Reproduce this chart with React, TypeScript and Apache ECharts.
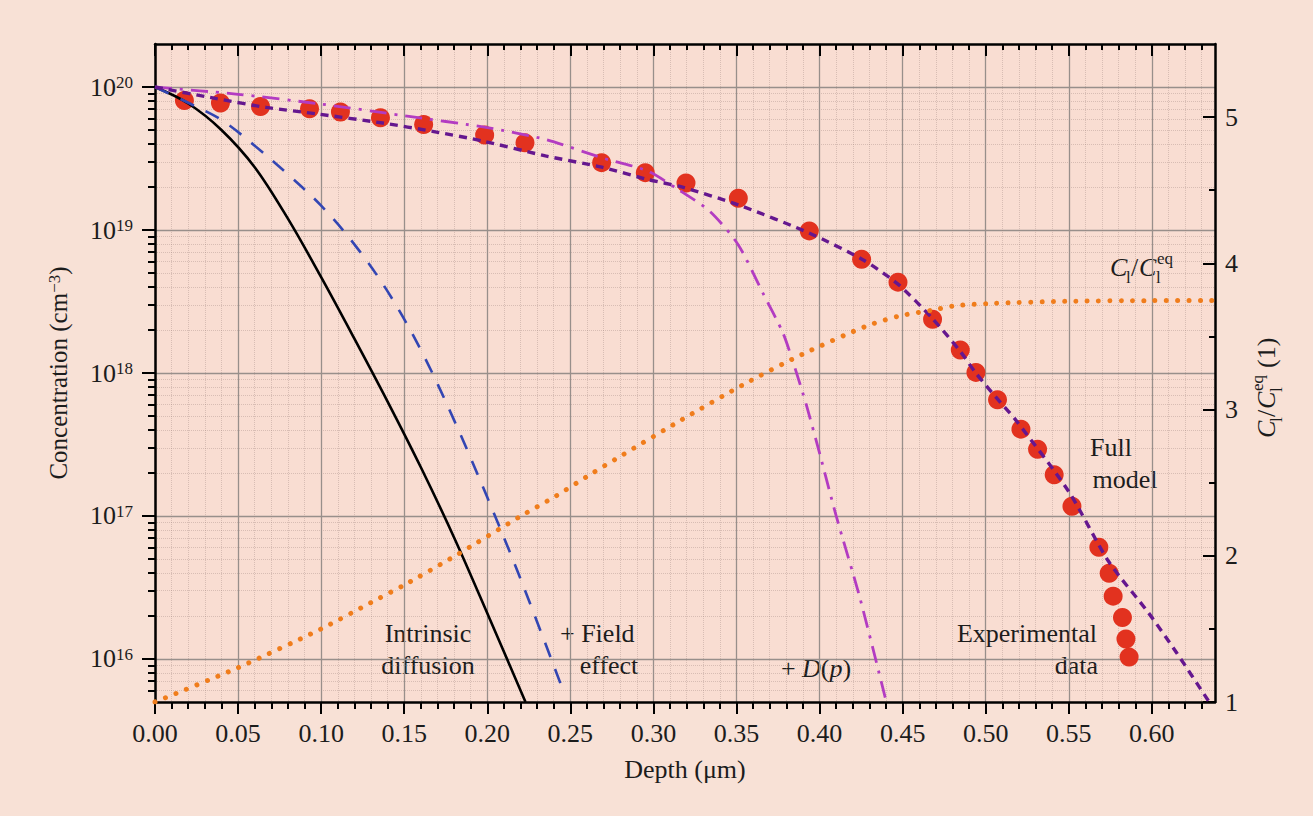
import React, { useEffect, useRef } from 'react';
import * as echarts from 'echarts';

const FONT = '"Liberation Serif", "Times New Roman", "DejaVu Serif", serif';
const TXT = '#1c1c1c';

// ---- axis ticks ----
const depthTicks = [0, 0.05, 0.1, 0.15, 0.2, 0.25, 0.3, 0.35, 0.4, 0.45, 0.5, 0.55, 0.6];
const depthMinorSteps = [1, 2, 3, 4, 6, 7, 8, 9, 11, 12, 13, 14, 16, 17, 18, 19, 21, 22, 23, 24, 26, 27, 28, 29, 31, 32, 33, 34, 36, 37, 38, 39, 41, 42, 43, 44, 46, 47, 48, 49, 51, 52, 53, 54, 56, 57, 58, 59, 61, 62, 63];
const depthMinorTicks = depthMinorSteps.map((s) => s / 100);
const concTicks = [1e16, 1e17, 1e18, 1e19, 1e20];
const concMantissas = [2, 3, 4, 5, 6, 7, 8, 9];
const concDecades = [15, 16, 17, 18, 19, 20];
const ratioTicks = [1, 2, 3, 4, 5];
const ratioMinorTicks = [1.5, 2.5, 3.5, 4.5];

// ---- data ----
const expDepth = [0.0177, 0.0394, 0.0635, 0.093, 0.1116, 0.1357, 0.1617, 0.1984, 0.2227, 0.2688, 0.2951, 0.3196, 0.3511, 0.3938, 0.4253, 0.4472, 0.468, 0.4847, 0.4941, 0.5071, 0.5212, 0.5312, 0.5412, 0.5519, 0.5681, 0.5743, 0.5767, 0.5823, 0.5844, 0.5863];
const expConc = [8.05e19, 7.73e19, 7.31e19, 7.05e19, 6.68e19, 6.1e19, 5.47e19, 4.61e19, 4.07e19, 2.96e19, 2.52e19, 2.13e19, 1.67e19, 9.86e18, 6.25e18, 4.32e18, 2.38e18, 1.45e18, 1.01e18, 6.49e17, 4.05e17, 2.93e17, 1.94e17, 1.17e17, 6.04e16, 3.97e16, 2.75e16, 1.95e16, 1.38e16, 1.03e16];

const intrDepth = [0, 0.02, 0.04, 0.06, 0.08, 0.1, 0.12, 0.14, 0.16, 0.18, 0.2, 0.223];
const intrConc = [1e20, 7.67e19, 5.01e19, 2.75e19, 1.2e19, 4.68e18, 1.74e18, 6.31e17, 2.19e17, 7.08e16, 2.09e16, 5.0e15];

const fieldDepth = [0, 0.02, 0.04, 0.06, 0.08, 0.1, 0.12, 0.14, 0.16, 0.18, 0.2, 0.22, 0.244];
const fieldConc = [1e20, 7.76e19, 5.89e19, 3.89e19, 2.45e19, 1.48e19, 7.94e18, 3.72e18, 1.45e18, 4.68e17, 1.35e17, 3.63e16, 6.76e15];

const dpDepth = [0, 0.05, 0.1, 0.15, 0.2, 0.235, 0.269, 0.296, 0.314, 0.334, 0.351, 0.366, 0.378, 0.385, 0.392, 0.4, 0.41, 0.424, 0.44];
const dpConc = [1e20, 8.9e19, 7.6e19, 6.3e19, 5.2e19, 4.3e19, 3.2e19, 2.6e19, 1.95e19, 1.35e19, 7.9e18, 3.6e18, 1.9e18, 1.1e18, 6.0e17, 2.75e17, 1.0e17, 2.75e16, 5.1e15];

const fullDepth = [0, 0.037, 0.067, 0.097, 0.137, 0.167, 0.197, 0.235, 0.269, 0.297, 0.317, 0.351, 0.394, 0.426, 0.447, 0.468, 0.485, 0.494, 0.506, 0.518, 0.55, 0.574, 0.598, 0.615, 0.634];
const fullConc = [1e20, 8.3e19, 7.2e19, 6.5e19, 5.6e19, 4.9e19, 4.2e19, 3.3e19, 2.75e19, 2.25e19, 2.0e19, 1.5e19, 9.5e18, 6.2e18, 4.2e18, 2.4e18, 1.4e18, 1.0e18, 6.8e17, 4.7e17, 1.48e17, 4.8e16, 2.1e16, 1.1e16, 5.1e15];

const ratioDepth = [0, 0.05, 0.1, 0.13, 0.15, 0.18, 0.22, 0.24, 0.264, 0.28, 0.317, 0.354, 0.39, 0.428, 0.448, 0.468, 0.482, 0.504, 0.548, 0.6, 0.637];
const ratioVal = [1.0, 1.235, 1.5, 1.68, 1.8, 1.995, 2.27, 2.4, 2.57, 2.68, 2.93, 3.17, 3.38, 3.57, 3.64, 3.68, 3.71, 3.726, 3.74, 3.745, 3.745];

const pairs = (xs: number[], ys: number[]) => xs.map((x, i) => [x, ys[i]]);

const concMinorTicks: number[] = [];
concDecades.forEach((e) => {
  concMantissas.forEach((m) => {
    const v = m * Math.pow(10, e);
    if (v > 5.01e15 && v < 1.99e20) concMinorTicks.push(v);
  });
});

const majorGrid = { show: true, lineStyle: { color: '#988f8b', width: 1.3, type: 'solid' as const } };
const minorGrid = { show: true, lineStyle: { color: 'rgba(150,125,118,0.33)', width: 1, type: 'dotted' as const } };

export default function App() {
  const ref = useRef<HTMLDivElement>(null);
  useEffect(() => {
    if (!ref.current) return;
    const chart = echarts.init(ref.current, undefined, { renderer: 'svg' });
    const labelBase = { fontFamily: FONT, color: TXT, fontSize: 26 };
    const txt = (text: string, x: number, y: number, align: string) => ({
      type: 'text', x, y,
      style: { text, fontSize: 26, fontFamily: FONT, fill: TXT, align, verticalAlign: 'middle' },
    });
    const piece = (text: string, x: number, y: number, size: number, italic: boolean) => ({
      type: 'text', x, y,
      style: { text, fontSize: size, fontFamily: FONT, fontStyle: italic ? 'italic' : 'normal', fill: TXT, align: 'left', verticalAlign: 'middle' },
    });
    const option: any = {
      animation: false,
      backgroundColor: '#f8e1d6',
      grid: { left: 155, top: 44, width: 1060, height: 658, show: true, backgroundColor: '#f9ddd2', borderWidth: 0 },
      xAxis: [
        {
          type: 'value', position: 'bottom', min: 0, max: 0.638,
          name: 'Depth (μm)', nameLocation: 'middle', nameGap: 54,
          nameTextStyle: { ...labelBase },
          axisLine: { show: true, onZero: false, lineStyle: { color: '#000', width: 2.5 } },
          axisTick: { show: true, inside: false, length: 12, customValues: depthTicks, lineStyle: { color: '#000', width: 2 } },
          axisLabel: { show: true, customValues: depthTicks, margin: 18, ...labelBase, formatter: (v: number) => v.toFixed(2) },
          splitLine: majorGrid,
        },
        {
          type: 'value', position: 'bottom', min: 0, max: 0.638,
          axisLine: { show: false, onZero: false },
          axisTick: { show: true, inside: false, length: 7, customValues: depthMinorTicks, lineStyle: { color: '#000', width: 2 } },
          axisLabel: { show: false },
          splitLine: minorGrid,
        },
        {
          type: 'value', position: 'top', min: 0, max: 0.638,
          axisLine: { show: true, onZero: false, lineStyle: { color: '#000', width: 2.5 } },
          axisTick: { show: true, inside: true, length: 12, customValues: depthTicks, lineStyle: { color: '#000', width: 2 } },
          axisLabel: { show: false },
          splitLine: { show: false },
        },
        {
          type: 'value', position: 'top', min: 0, max: 0.638,
          axisLine: { show: false, onZero: false },
          axisTick: { show: true, inside: true, length: 6, customValues: depthMinorTicks, lineStyle: { color: '#000', width: 2 } },
          axisLabel: { show: false },
          splitLine: { show: false },
        },
      ],
      yAxis: [
        {
          type: 'log', logBase: 10, position: 'left', min: 5e15, max: 2e20,
          name: 'Concentration (cm{sup|−3})', nameLocation: 'middle', nameRotate: 90, nameGap: 84,
          nameTextStyle: { ...labelBase, fontSize: 25, rich: { sup: { fontFamily: FONT, color: TXT, fontSize: 17, verticalAlign: 'top', lineHeight: 17 } } },
          axisLine: { show: true, onZero: false, lineStyle: { color: '#000', width: 2.5 } },
          axisTick: { show: true, inside: false, length: 13, customValues: concTicks, lineStyle: { color: '#000', width: 2 } },
          axisLabel: {
            show: true, customValues: concTicks, margin: 22, ...labelBase,
            formatter: (v: number) => `{b|10}{s|${Math.round(Math.log10(v))}}`,
            rich: {
              b: { fontFamily: FONT, color: TXT, fontSize: 26, lineHeight: 26 },
              s: { fontFamily: FONT, color: TXT, fontSize: 17, lineHeight: 17, verticalAlign: 'top' },
            },
          },
          splitLine: majorGrid,
        },
        {
          type: 'log', logBase: 10, position: 'left', min: 5e15, max: 2e20,
          axisLine: { show: false, onZero: false },
          axisTick: { show: true, inside: false, length: 7, customValues: concMinorTicks, lineStyle: { color: '#000', width: 2 } },
          axisLabel: { show: false },
          splitLine: minorGrid,
        },
        {
          type: 'value', position: 'right', min: 1, max: 5.5,
          axisLine: { show: true, onZero: false, lineStyle: { color: '#000', width: 2.5 } },
          axisTick: { show: true, inside: true, length: 12, customValues: ratioTicks, lineStyle: { color: '#000', width: 2 } },
          axisLabel: { show: true, customValues: ratioTicks, margin: 10, ...labelBase },
          splitLine: { show: false },
        },
        {
          type: 'value', position: 'right', min: 1, max: 5.5,
          axisLine: { show: false, onZero: false },
          axisTick: { show: true, inside: true, length: 6, customValues: ratioMinorTicks, lineStyle: { color: '#000', width: 2 } },
          axisLabel: { show: false },
          splitLine: { show: false },
        },
      ],
      series: [
        {
          name: 'Experimental data', type: 'scatter', xAxisIndex: 0, yAxisIndex: 0,
          data: pairs(expDepth, expConc), symbol: 'circle', symbolSize: 19,
          itemStyle: { color: '#e2321f', opacity: 1 }, z: 2,
        },
        {
          name: 'Intrinsic diffusion', type: 'line', xAxisIndex: 0, yAxisIndex: 0,
          data: pairs(intrDepth, intrConc), showSymbol: false, smooth: 0.35,
          lineStyle: { color: '#000', width: 2.6, type: 'solid' }, z: 3,
        },
        {
          name: '+Field effect', type: 'line', xAxisIndex: 0, yAxisIndex: 0,
          data: pairs(fieldDepth, fieldConc), showSymbol: false, smooth: 0.35,
          lineStyle: { color: '#3346b3', width: 2.6, type: [15, 13] }, z: 3,
        },
        {
          name: '+D(p)', type: 'line', xAxisIndex: 0, yAxisIndex: 0,
          data: pairs(dpDepth, dpConc), showSymbol: false, smooth: 0.25,
          lineStyle: { color: '#b33cc2', width: 2.8, type: [17, 8, 3, 8] }, z: 3,
        },
        {
          name: 'Full model', type: 'line', xAxisIndex: 0, yAxisIndex: 0,
          data: pairs(fullDepth, fullConc), showSymbol: false, smooth: 0.25,
          lineStyle: { color: '#65178f', width: 3.4, type: [8, 6] }, z: 4,
        },
        {
          name: 'Cl/Cl eq', type: 'line', xAxisIndex: 0, yAxisIndex: 2,
          data: pairs(ratioDepth, ratioVal), showSymbol: false, smooth: 0.25,
          lineStyle: { color: '#f07d1c', width: 5, type: [0.01, 11.3], cap: 'round' }, z: 4,
        },
      ],
      graphic: [
        txt('Intrinsic', 428, 633, 'center'),
        txt('diffusion', 428, 665, 'center'),
        txt('+ Field', 560, 633, 'left'),
        txt('effect', 609, 665, 'center'),
        {
          type: 'text', x: 816, y: 668,
          style: {
            text: '+ {i|D}({i|p})', fontSize: 26, fontFamily: FONT, fill: TXT, align: 'center', verticalAlign: 'middle',
            rich: { i: { fontSize: 26, fontFamily: FONT, fontStyle: 'italic', fill: TXT } },
          },
        },
        txt('Full', 1090, 447, 'left'),
        txt('model', 1125, 479, 'center'),
        txt('Experimental', 1097, 633, 'right'),
        txt('data', 1098, 665, 'right'),
        {
          type: 'group', x: 1110, y: 267,
          children: [
            piece('C', 0, 0, 26, true),
            piece('l', 16, 10, 17, false),
            piece('/', 21, 0, 26, false),
            piece('C', 29, 0, 26, true),
            piece('l', 46, 10, 17, false),
            piece('eq', 47, -9, 17, false),
          ],
        },
        {
          type: 'group', x: 1266, y: 386, rotation: Math.PI / 2,
          children: [
            piece('C', -52, 0, 26, true),
            piece('l', -36, 10, 17, false),
            piece('/', -31, 0, 26, false),
            piece('C', -23, 0, 26, true),
            piece('l', -6, 10, 17, false),
            piece('eq', -5, -9, 17, false),
            piece('(1)', 18, 0, 26, false),
          ],
        },
      ],
    };
    chart.setOption(option);
    return () => chart.dispose();
  }, []);
  return <div ref={ref} style={{ position: 'absolute', left: 0, top: 0, width: 1313, height: 816 }} />;
}
